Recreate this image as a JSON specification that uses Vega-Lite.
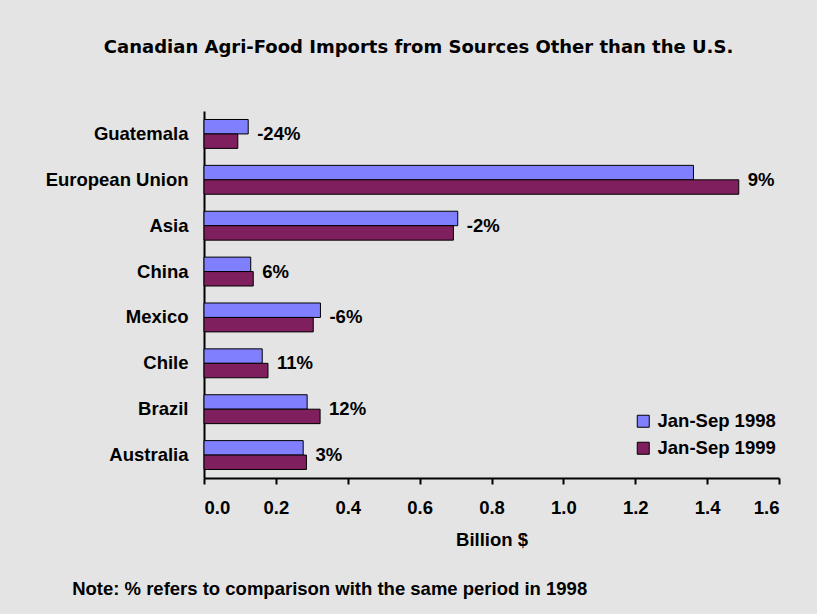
{
  "$schema": "https://vega.github.io/schema/vega-lite/v6.json",
  "background": "#e4e4e4",
  "padding": {"left": 45, "top": 39, "right": 40, "bottom": 30},
  "title": {
    "text": "Canadian Agri-Food Imports from Sources Other than the U.S.",
    "font": "DejaVu Sans",
    "fontSize": 18,
    "fontWeight": "bold",
    "color": "black",
    "anchor": "middle",
    "frame": "bounds",
    "dx": 6,
    "offset": 54
  },
  "data": {
    "values": [
      {"region": "Guatemala", "period": "Jan-Sep 1998", "value": 0.123, "change": "-24%"},
      {"region": "Guatemala", "period": "Jan-Sep 1999", "value": 0.094, "change": "-24%"},
      {"region": "European Union", "period": "Jan-Sep 1998", "value": 1.362, "change": "9%"},
      {"region": "European Union", "period": "Jan-Sep 1999", "value": 1.488, "change": "9%"},
      {"region": "Asia", "period": "Jan-Sep 1998", "value": 0.706, "change": "-2%"},
      {"region": "Asia", "period": "Jan-Sep 1999", "value": 0.694, "change": "-2%"},
      {"region": "China", "period": "Jan-Sep 1998", "value": 0.130, "change": "6%"},
      {"region": "China", "period": "Jan-Sep 1999", "value": 0.137, "change": "6%"},
      {"region": "Mexico", "period": "Jan-Sep 1998", "value": 0.324, "change": "-6%"},
      {"region": "Mexico", "period": "Jan-Sep 1999", "value": 0.304, "change": "-6%"},
      {"region": "Chile", "period": "Jan-Sep 1998", "value": 0.162, "change": "11%"},
      {"region": "Chile", "period": "Jan-Sep 1999", "value": 0.178, "change": "11%"},
      {"region": "Brazil", "period": "Jan-Sep 1998", "value": 0.287, "change": "12%"},
      {"region": "Brazil", "period": "Jan-Sep 1999", "value": 0.323, "change": "12%"},
      {"region": "Australia", "period": "Jan-Sep 1998", "value": 0.276, "change": "3%"},
      {"region": "Australia", "period": "Jan-Sep 1999", "value": 0.285, "change": "3%"}
    ]
  },
  "vconcat": [
    {
      "width": 575,
      "height": 367,
      "title": {
        "text": "Note: % refers to comparison with the same period in 1998",
        "orient": "bottom",
        "anchor": "start",
        "frame": "bounds",
        "dx": 27,
        "offset": 31,
        "font": "Liberation Sans",
        "fontSize": 18.5,
        "fontWeight": "bold",
        "color": "black"
      },
      "layer": [
        {
          "mark": {"type": "bar", "stroke": "black", "strokeWidth": 1},
          "encoding": {
            "y": {
              "field": "region",
              "type": "nominal",
              "sort": ["Guatemala", "European Union", "Asia", "China", "Mexico", "Chile", "Brazil", "Australia"],
              "scale": {"paddingInner": 0.37, "paddingOuter": 0.185},
              "axis": {"title": null, "ticks": false, "labelPadding": 16}
            },
            "yOffset": {
              "field": "period",
              "type": "nominal",
              "sort": ["Jan-Sep 1998", "Jan-Sep 1999"]
            },
            "x": {
              "field": "value",
              "type": "quantitative",
              "scale": {"domain": [0, 1.6], "nice": false},
              "axis": {
                "title": "Billion $",
                "values": [0, 0.2, 0.4, 0.6, 0.8, 1.0, 1.2, 1.4, 1.6],
                "format": ".1f",
                "tickSize": 6,
                "labelPadding": 14,
                "titlePadding": 14
              }
            },
            "color": {
              "field": "period",
              "type": "nominal",
              "scale": {"domain": ["Jan-Sep 1998", "Jan-Sep 1999"], "range": ["#8080ff", "#7f1f5e"]},
              "legend": {"title": null}
            }
          }
        },
        {
          "transform": [
            {"joinaggregate": [{"op": "max", "field": "value", "as": "top"}], "groupby": ["region"]},
            {"filter": "datum.period === 'Jan-Sep 1998'"}
          ],
          "mark": {
            "type": "text",
            "align": "left",
            "baseline": "middle",
            "dx": 9,
            "font": "Liberation Sans",
            "fontSize": 18.5,
            "fontWeight": "bold",
            "color": "black"
          },
          "encoding": {
            "y": {
              "field": "region",
              "type": "nominal",
              "sort": ["Guatemala", "European Union", "Asia", "China", "Mexico", "Chile", "Brazil", "Australia"]
            },
            "x": {"field": "top", "type": "quantitative"},
            "text": {"field": "change", "type": "nominal"}
          }
        }
      ]
    }
  ],
  "config": {
    "view": {"stroke": null},
    "font": "Liberation Sans",
    "axis": {
      "labelFont": "Liberation Sans",
      "labelFontSize": 18.5,
      "labelFontWeight": "bold",
      "labelColor": "black",
      "titleFont": "Liberation Sans",
      "titleFontSize": 18.5,
      "titleFontWeight": "bold",
      "titleColor": "black",
      "domainColor": "black",
      "domainWidth": 2,
      "tickColor": "black",
      "tickWidth": 2,
      "grid": false
    },
    "legend": {
      "orient": "none",
      "legendX": 430,
      "legendY": 301,
      "padding": 0,
      "symbolType": "square",
      "symbolSize": 144,
      "symbolStrokeColor": "black",
      "symbolStrokeWidth": 1,
      "symbolOpacity": 1,
      "labelFont": "Liberation Sans",
      "labelFontSize": 18.5,
      "labelFontWeight": "bold",
      "labelColor": "black",
      "labelOffset": 5,
      "rowPadding": 8
    }
  }
}
